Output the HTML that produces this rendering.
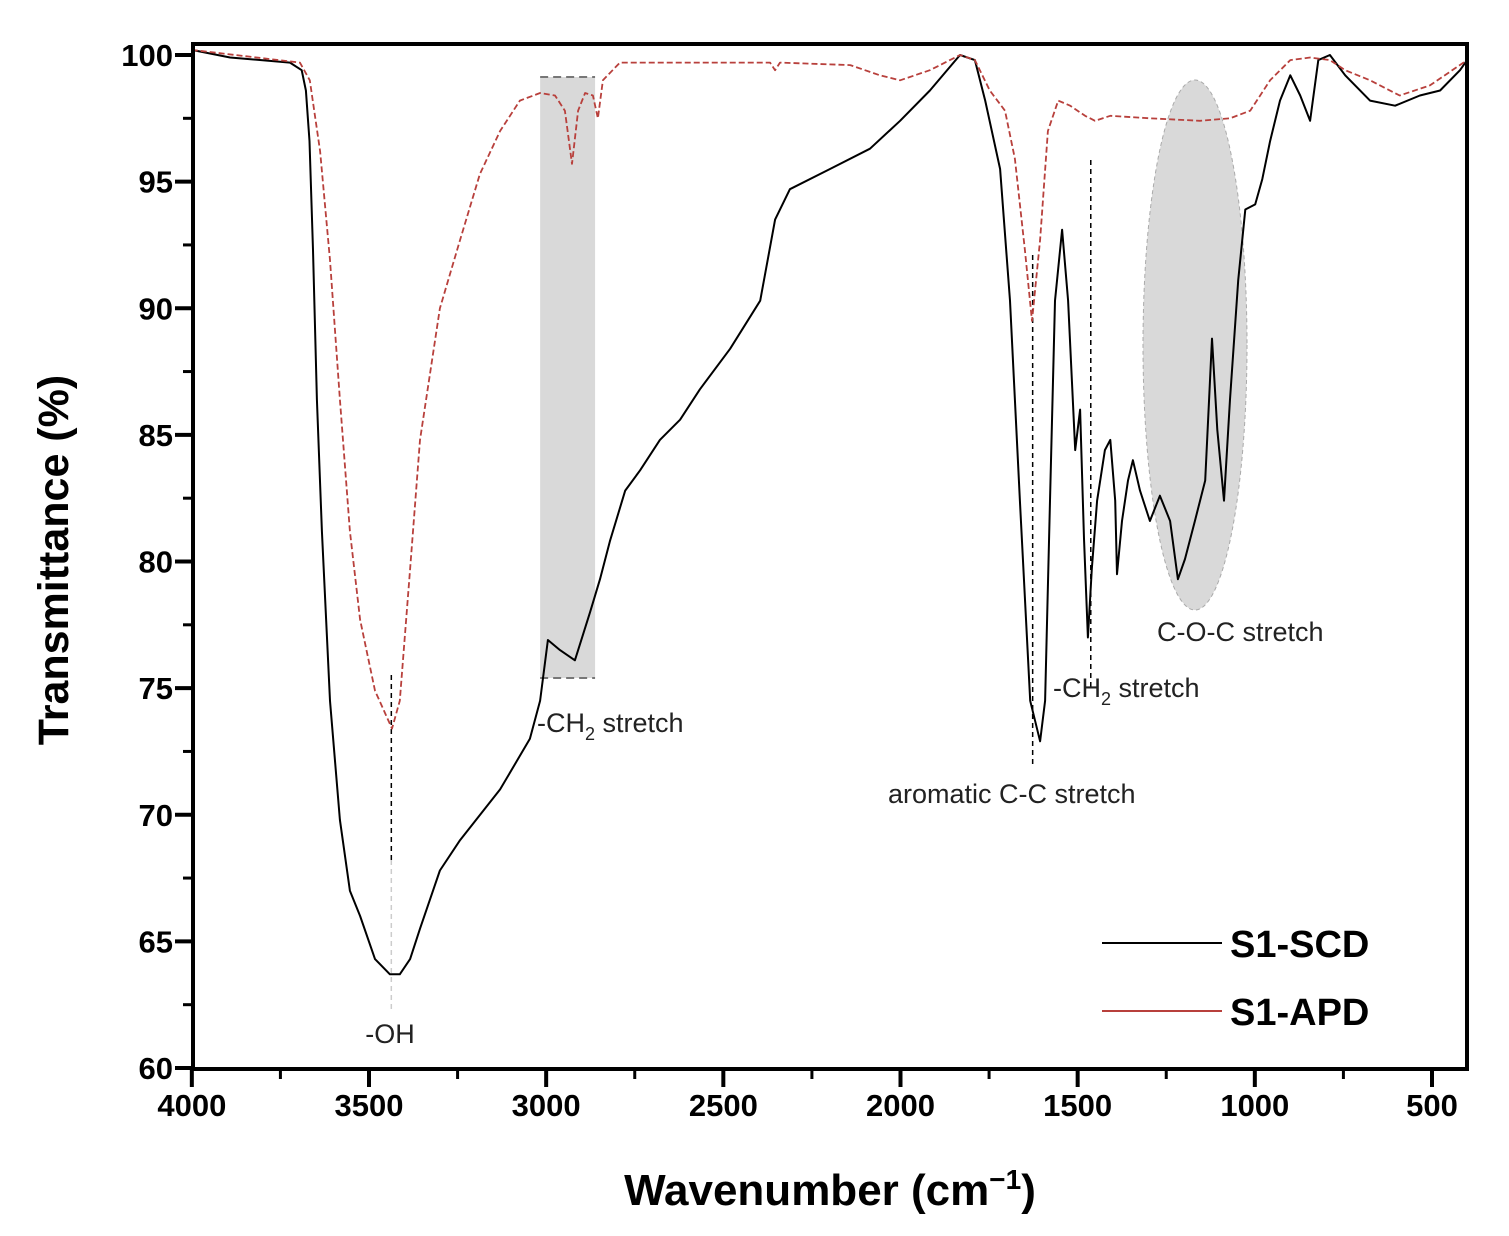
<!DOCTYPE html>
<html><head><meta charset="utf-8"><style>
html,body{margin:0;padding:0;background:#fff;}
svg{display:block;font-family:"Liberation Sans",Arial,sans-serif;}
</style></head><body>
<svg id="chart" width="1509" height="1236" viewBox="0 0 1509 1236">
<g id="annot"></g>
<g id="series"></g>
<g id="axes"></g>
</svg>
<script>
const xTicks=[4000,3500,3000,2500,2000,1500,1000,500];
const yTicks=[60,65,70,75,80,85,90,95,100];
const scdWave=[4000,3892,3723,3690,3678,3668,3658,3647,3633,3610,3582,3554,3525,3483,3441,3413,3384,3356,3300,3243,3130,3046,3017,2995,2961,2919,2876,2848,2820,2777,2735,2679,2622,2566,2481,2396,2354,2312,2199,2086,2001,1917,1832,1790,1761,1719,1691,1663,1634,1606,1592,1578,1564,1544,1527,1507,1493,1482,1471,1460,1445,1423,1408,1394,1389,1375,1358,1344,1324,1296,1268,1239,1217,1197,1169,1140,1121,1106,1087,1070,1047,1027,999,979,957,929,900,872,844,821,788,745,675,604,534,477,421,401];
const scdT=[100.2,99.9,99.7,99.4,98.6,96.6,92.3,86.4,81.2,74.5,69.8,67.0,66.0,64.3,63.7,63.7,64.3,65.5,67.8,69.0,71.0,73.0,74.5,76.9,76.5,76.1,78.0,79.3,80.8,82.8,83.6,84.8,85.6,86.8,88.4,90.3,93.5,94.7,95.5,96.3,97.4,98.6,100,99.8,98.2,95.5,90.3,82.4,74.5,72.9,74.5,82.4,90.3,93.1,90.3,84.4,86.0,80.9,77.0,79.7,82.4,84.4,84.8,82.4,79.5,81.6,83.2,84.0,82.8,81.6,82.6,81.6,79.3,80.1,81.6,83.2,88.8,85.2,82.4,86.4,91.1,93.9,94.1,95.1,96.6,98.2,99.2,98.4,97.4,99.8,100,99.2,98.2,98.0,98.4,98.6,99.4,99.8];
const apdWave=[4000,3695,3667,3638,3610,3582,3554,3525,3483,3435,3413,3384,3356,3300,3243,3187,3130,3074,3017,2975,2947,2927,2910,2890,2868,2854,2840,2792,2566,2368,2354,2340,2142,2058,2001,1917,1832,1790,1748,1705,1677,1649,1629,1606,1584,1555,1521,1479,1451,1408,1296,1155,1070,1013,957,900,844,788,745,675,591,506,401];
const apdT=[100.2,99.7,99.0,96.2,91.9,86.4,81.2,77.7,74.9,73.4,74.5,79.7,84.8,90.0,92.7,95.3,97.0,98.2,98.5,98.4,97.8,95.7,97.8,98.5,98.4,97.5,99.0,99.7,99.7,99.7,99.4,99.7,99.6,99.2,99.0,99.4,100,99.8,98.6,97.8,95.9,92.3,89.5,92.7,97.0,98.2,98.0,97.6,97.4,97.6,97.5,97.4,97.5,97.8,99.0,99.8,99.9,99.8,99.4,99.0,98.4,98.8,99.8];

const NS="http://www.w3.org/2000/svg";
const X=v=>369+(3500-v)*0.35433;
const Y=t=>55+(100-t)*25.325;
const L=193,R=1467,T=44,B=1069;
function mk(tag,attrs,parent){const e=document.createElementNS(NS,tag);for(const k in attrs)e.setAttribute(k,attrs[k]);parent.appendChild(e);return e;}
const ann=document.getElementById('annot'),ser=document.getElementById('series'),ax=document.getElementById('axes');

let r=mk('rect',{x:X(3017),y:77,width:X(2862)-X(3017),height:601,fill:'#d9d9d9'},ann);


let dl=mk('path',{d:`M${X(3017)} 77H${X(2862)}M${X(3017)} 678H${X(2862)}`,stroke:'#777','stroke-dasharray':'8 5','stroke-width':2,fill:'none'},ann);


let el=mk('ellipse',{cx:1195,cy:345,rx:52,ry:265,fill:'#d9d9d9',stroke:'#aaa','stroke-dasharray':'4 3'},ann);


[[3437,675,860,'#000'],[3437,860,1010,'#ccc'],[1627,255,765,'#000'],[1463,160,690,'#000']].forEach(a=>{
 const g=mk('line',{x1:X(a[0]),x2:X(a[0]),y1:a[1],y2:a[2],stroke:a[3],'stroke-width':1.5,'stroke-dasharray':'5 4'},ann);
 
 
});

function path(w,t,color,name,dash,sw){
 let d='';w.forEach((v,i)=>{d+=(i?'L':'M')+X(v).toFixed(1)+' '+Y(t[i]).toFixed(1);});
 const p=mk('path',{d:d,stroke:color,'stroke-width':sw,fill:'none','stroke-linejoin':'round'},ser);
 if(dash)p.setAttribute('stroke-dasharray',dash);
 
 
}
path(scdWave,scdT,'#000','series-s1-scd',null,2);
path(apdWave,apdT,'#b8403c','series-s1-apd','6 3',1.8);

let fr=mk('rect',{x:L,y:T,width:R-L,height:B-T,fill:'none',stroke:'#000','stroke-width':4},ax);


yTicks.forEach(t=>{
 mk('line',{x1:L-18,x2:L,y1:Y(t),y2:Y(t),stroke:'#000','stroke-width':4},ax);
 if(t<100)mk('line',{x1:L-10,x2:L,y1:Y(t+2.5),y2:Y(t+2.5),stroke:'#000','stroke-width':3},ax);
 const tx=mk('text',{x:L-20,y:Y(t)+11,'text-anchor':'end','font-size':31,'font-weight':'bold'},ax);
 tx.textContent=t;
 
 
});
xTicks.forEach(v=>{
 mk('line',{x1:X(v),x2:X(v),y1:B,y2:B+18,stroke:'#000','stroke-width':4},ax);
 if(v>500)mk('line',{x1:X(v-250),x2:X(v-250),y1:B,y2:B+10,stroke:'#000','stroke-width':3},ax);
 const tx=mk('text',{x:X(v),y:1116,'text-anchor':'middle','font-size':31,'font-weight':'bold'},ax);
 tx.textContent=v;
 
 
});
</script>
<svg style="position:absolute;left:0;top:0" width="1509" height="1236">
<text x="830" y="1205" text-anchor="middle" font-size="44" font-weight="bold" font-family="Liberation Sans, sans-serif">Wavenumber (cm<tspan dy="-16" font-size="28">−1</tspan><tspan dy="16">)</tspan></text>
<text transform="translate(68,560) rotate(-90)" text-anchor="middle" font-size="43" font-weight="bold" font-family="Liberation Sans, sans-serif">Transmittance (%)</text>
<g font-family="Liberation Sans, sans-serif" font-size="27" fill="#222">
<text x="390" y="1043" text-anchor="middle">-OH</text>
<text x="537" y="732">-CH<tspan dy="8" font-size="18">2</tspan><tspan dy="-8"> stretch</tspan></text>
<text x="888" y="803">aromatic C-C stretch</text>
<text x="1053" y="697">-CH<tspan dy="8" font-size="18">2</tspan><tspan dy="-8"> stretch</tspan></text>
<text x="1157" y="641">C-O-C stretch</text>
</g>
<g>
<line x1="1102" x2="1222" y1="943" y2="943" stroke="#000" stroke-width="2"/>
<line x1="1102" x2="1222" y1="1011" y2="1011" stroke="#b8403c" stroke-width="2"/>
<text x="1230" y="957" font-size="38" font-weight="bold" font-family="Liberation Sans, sans-serif">S1-SCD</text>
<text x="1230" y="1025" font-size="38" font-weight="bold" font-family="Liberation Sans, sans-serif">S1-APD</text>
</g>
</svg>
</body></html>
